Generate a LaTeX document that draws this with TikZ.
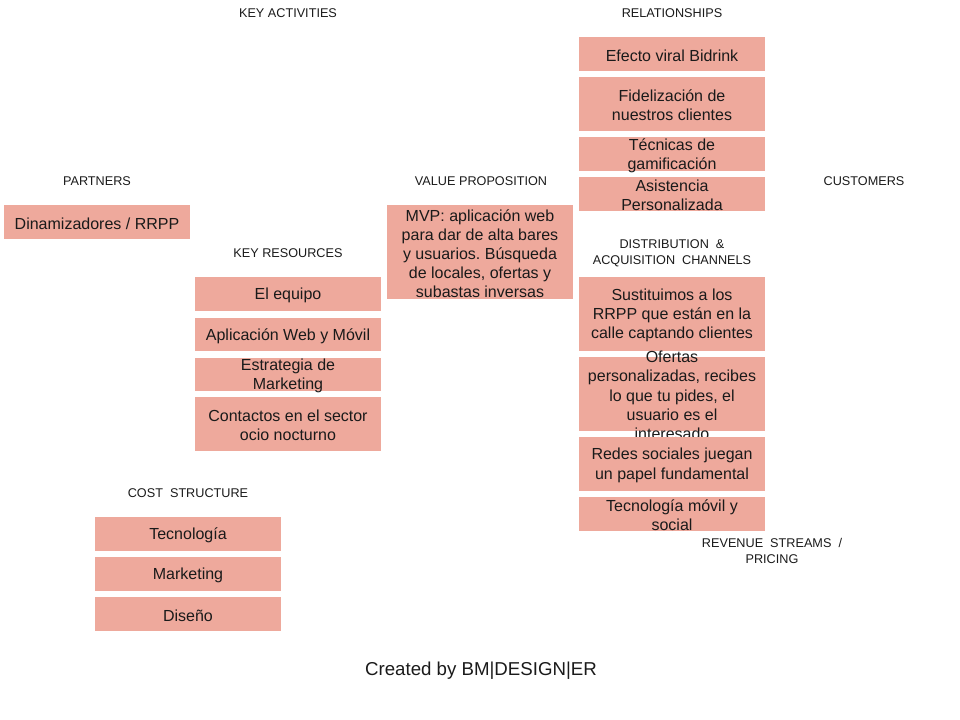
\documentclass[tikz,border=0pt]{standalone}
\usepackage{fontspec}
\setmainfont{Liberation Sans}
\frenchspacing
\definecolor{salmon}{HTML}{EEA99C}
\definecolor{ink}{HTML}{1A1A1A}
\tikzset{
  cbx/.style={fill=salmon, inner sep=0pt},
  ctxt/.style={inner sep=0pt, align=center, text=ink, yshift=-1pt,
    font=\fontsize{12}{14.3}\selectfont},
  lbl/.style={inner sep=0pt, align=center, text=ink,
    font=\fontsize{9.5}{12}\selectfont}
}
\newcommand\cbox[6]{%
  \node[cbx, minimum width={(#4-#2)*0.75pt}, minimum height={(#5-#3)*0.75pt}] (#1) at ({(#2+#4)/2},{(#3+#5)/2}) {};
  \node[ctxt] (#1-t) at (#1.center) {#6};}
\begin{document}
\begin{tikzpicture}[x=0.75pt,y=-0.75pt]
\useasboundingbox (0,0) rectangle (960,720);
% section labels
\node[lbl] (lka) at (288,13) {KEY ACTIVITIES};
\node[lbl] (lrel) at (672,13) {RELATIONSHIPS};
\node[lbl] (lpar) at (97,181) {PARTNERS};
\node[lbl] (lvp) at (481,181) {VALUE PROPOSITION};
\node[lbl] (lcus) at (864,181) {CUSTOMERS};
\node[lbl] (lkr) at (288,253) {KEY RESOURCES};
\node[lbl] (ldis) at (672,253) {DISTRIBUTION\ \ \&\\ACQUISITION\ \ CHANNELS};
\node[lbl] (lcost) at (188,493) {COST\ \ STRUCTURE};
\node[lbl] (lrev) at (772,551) {REVENUE\ \ STREAMS\ \ /\\PRICING};
% partners
\cbox{dina}{4}{205}{190}{239}{Dinamizadores / RRPP}
% key resources
\cbox{equipo}{195}{277}{381}{311}{El equipo}
\cbox{app}{195}{318}{381}{351}{Aplicación Web y Móvil}
\cbox{estr}{195}{358}{381}{391}{Estrategia de\\Marketing}
\cbox{cont}{195}{397}{381}{451}{Contactos en el sector\\ocio nocturno}
% value proposition
\cbox{mvp}{387}{205}{573}{299}{MVP: aplicación web\\para dar de alta bares\\y usuarios. Búsqueda\\de locales, ofertas y\\subastas inversas}
% relationships
\cbox{efecto}{579}{37}{765}{71}{Efecto viral Bidrink}
\cbox{fide}{579}{77}{765}{131}{Fidelización de\\nuestros clientes}
\cbox{tecn}{579}{137}{765}{171}{Técnicas de\\gamificación}
\cbox{asis}{579}{177}{765}{211}{Asistencia\\Personalizada}
% channels
\cbox{sust}{579}{277}{765}{351}{Sustituimos a los\\RRPP que están en la\\calle captando clientes}
\cbox{ofer}{579}{357}{765}{431}{Ofertas\\personalizadas, recibes\\lo que tu pides, el\\usuario es el\\interesado}
\cbox{redes}{579}{437}{765}{491}{Redes sociales juegan\\un papel fundamental}
\cbox{movil}{579}{497}{765}{531}{Tecnología móvil y\\social}
% cost structure
\cbox{ctec}{95}{517}{281}{551}{Tecnología}
\cbox{cmar}{95}{557}{281}{591}{Marketing}
\cbox{cdis}{95}{597}{281}{631}{Diseño}
% footer
\node[inner sep=0pt, text=ink, font=\fontsize{14}{16}\selectfont] (foot) at (481,671) {Created by BM|DESIGN|ER};
\end{tikzpicture}
\end{document}
